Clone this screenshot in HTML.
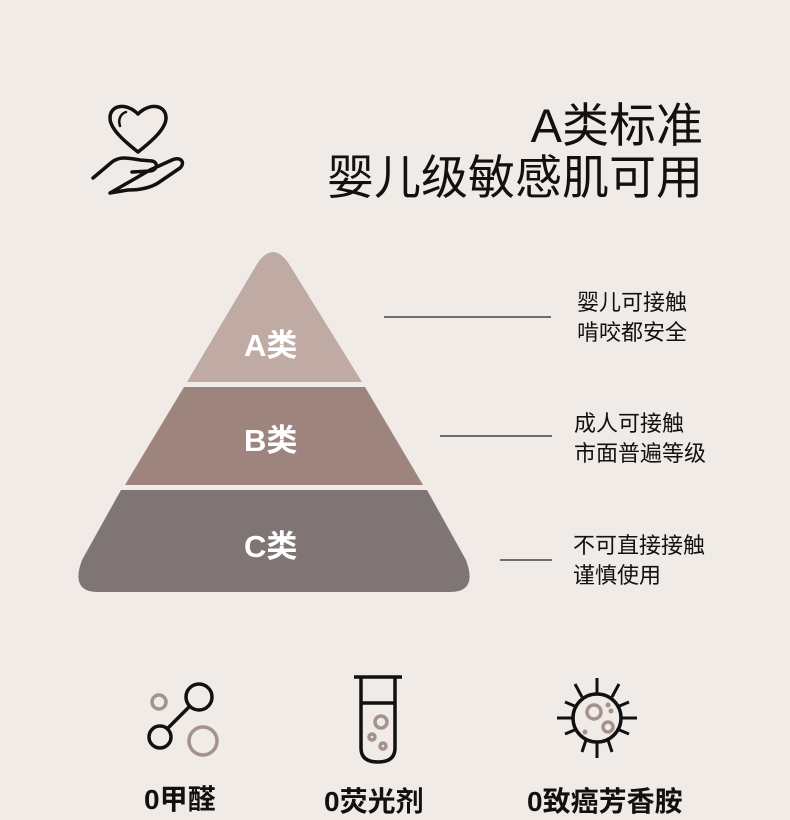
<!DOCTYPE html><html><head><meta charset="utf-8"><style>
body{margin:0;width:790px;height:812px;background:#f0ebe7;overflow:hidden;position:relative;font-family:"Liberation Sans","Noto Sans CJK SC",sans-serif;color:#111}
.t{position:absolute;white-space:nowrap}
</style></head><body>
<div class="t" style="right:87px;top:100px;font-size:47px;line-height:52px;text-align:right">A类标准<br>婴儿级敏感肌可用</div>
<svg width="790" height="812" style="position:absolute;left:0;top:0">
<g fill="none" stroke="#111" stroke-width="3.5" stroke-linejoin="round" stroke-linecap="round">
<path d="M138 152 C128 144 110 130 110 118 C110 105 126 102 138 114 C150 102 166 105 166 118 C166 130 148 144 138 152Z"/>
<path d="M120 126 C118 120 120 114 126 112" stroke-width="2.5"/>
<path d="M93 178 L112 162 C120 156 128 158 140 160 L152 161 C158 162 158 170 150 171 L132 172 M150 170 L172 160 C180 156 186 162 180 168 L158 183 C150 188 140 190 128 190 L110 193 Z"/>
</g>
<path d="M187 382 L257 264 Q273 240 289 264 L362 382 Z" fill="#bfaaa4"/>
<path d="M125 485 L184 387 L365 387 L423 485 Z" fill="#9d857e"/>
<path d="M121 490 L427 490 L466 560 Q478 592 450 592 L98 592 Q70 592 82 560 Z" fill="#7f7575"/>
<g stroke="#222" stroke-width="1.3"><line x1="384" y1="317" x2="551" y2="317"/><line x1="440" y1="436" x2="552" y2="436"/><line x1="500" y1="560" x2="552" y2="560"/></g>
<g fill="none" stroke-width="3.5">
<circle cx="159" cy="702" r="7" stroke="#a3928d"/><circle cx="199" cy="697" r="13" stroke="#111"/><circle cx="160" cy="737" r="11" stroke="#111"/><line x1="168" y1="728" x2="190" y2="706" stroke="#111"/><circle cx="203" cy="741" r="14" stroke="#a3928d"/>
<path d="M354 677 L402 677 M361 677 L361 748 Q361 762 378 762 Q395 762 395 748 L395 677 M361 703 L395 703" stroke="#111"/>
<circle cx="381" cy="722" r="6" stroke="#a3928d"/><circle cx="372" cy="737" r="3" stroke="#a3928d"/><circle cx="383" cy="746" r="3" stroke="#a3928d"/>
<circle cx="597" cy="718" r="24" stroke="#111"/>
<circle cx="594" cy="712" r="7" stroke="#a3928d"/><circle cx="608" cy="727" r="5" stroke="#a3928d"/>
<g stroke="#111" stroke-width="3"><line x1="597" y1="678" x2="597" y2="694"/><line x1="597" y1="742" x2="597" y2="758"/><line x1="557" y1="718" x2="573" y2="718"/><line x1="621" y1="718" x2="637" y2="718"/><line x1="575" y1="684" x2="582" y2="697"/><line x1="619" y1="684" x2="612" y2="697"/><line x1="565" y1="702" x2="577" y2="707"/><line x1="629" y1="702" x2="617" y2="707"/><line x1="565" y1="734" x2="577" y2="729"/><line x1="629" y1="734" x2="617" y2="729"/><line x1="582" y1="752" x2="586" y2="740"/><line x1="612" y1="752" x2="608" y2="740"/></g>
</g>
<g fill="#a3928d"><circle cx="608" cy="705" r="2.5"/><circle cx="611" cy="711" r="2.5"/><circle cx="585" cy="732" r="2.5"/></g>
</svg>
<div class="t" style="left:244px;top:320px;font-size:31px;font-weight:bold;color:#fff">A类</div>
<div class="t" style="left:244px;top:415px;font-size:31px;font-weight:bold;color:#fff">B类</div>
<div class="t" style="left:244px;top:521px;font-size:31px;font-weight:bold;color:#fff">C类</div>
<div class="t" style="left:577px;top:288px;font-size:22px;line-height:30px">婴儿可接触<br>啃咬都安全</div>
<div class="t" style="left:574px;top:409px;font-size:22px;line-height:30px">成人可接触<br>市面普遍等级</div>
<div class="t" style="left:573px;top:531px;font-size:22px;line-height:30px">不可直接接触<br>谨慎使用</div>
<div class="t" style="left:144px;top:778px;font-size:28px;font-weight:bold">0甲醛</div>
<div class="t" style="left:324px;top:780px;font-size:28px;font-weight:bold">0荧光剂</div>
<div class="t" style="left:527px;top:780px;font-size:28px;font-weight:bold">0致癌芳香胺</div>
</body></html>
